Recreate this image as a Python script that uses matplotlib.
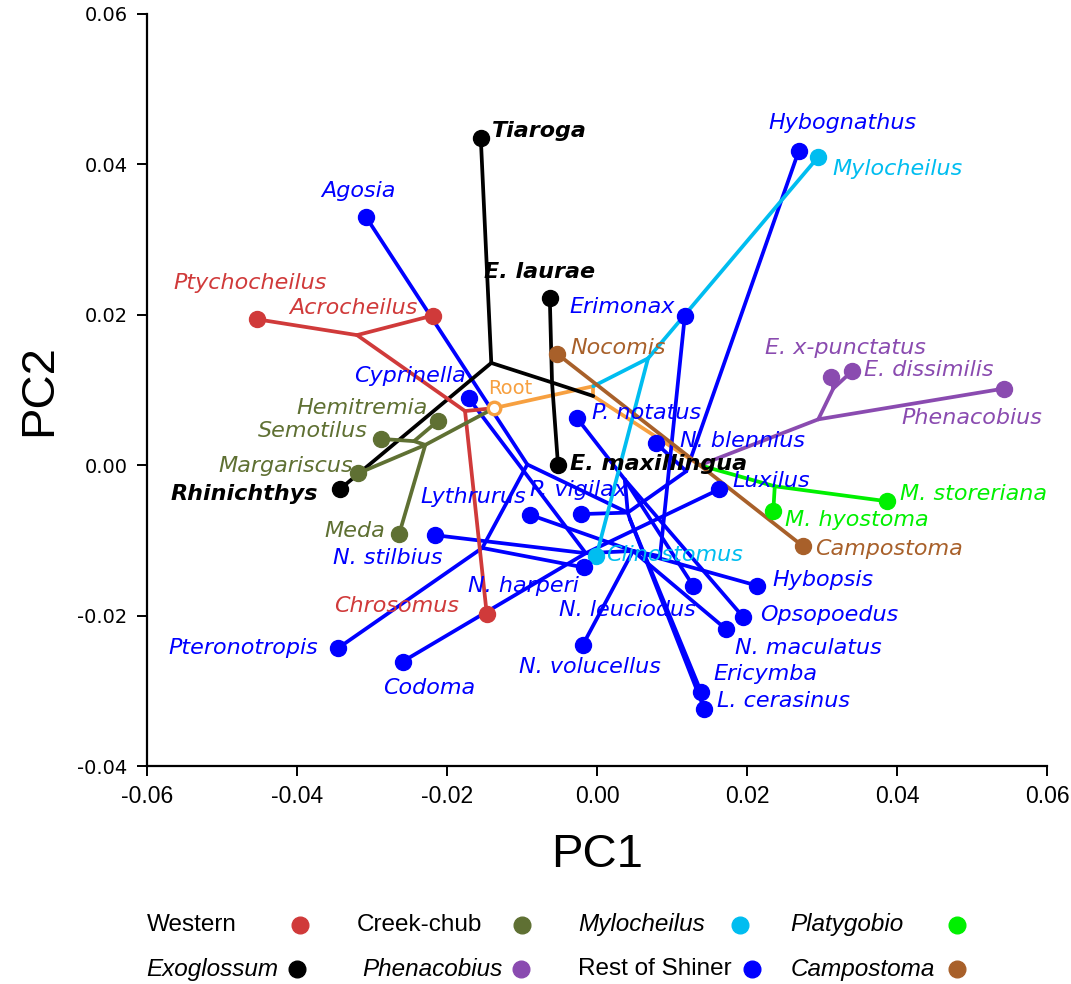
import matplotlib
matplotlib.use("Agg")
import matplotlib.pyplot as plt

# ---- group colours ----
group_colors = {
    "Western": "#d03a3a",
    "Creek-chub": "#5f7033",
    "Mylocheilus": "#00bdf0",
    "Platygobio": "#00f000",
    "Exoglossum": "#000000",
    "Phenacobius": "#8a4bb0",
    "Rest of Shiner": "#0000ff",
    "Campostoma": "#a8602a",
    "Root": "#f7a040",
}

# ---- tips: name, PC1, PC2, group ----
tip_names = ["Tiaroga", "Agosia", "Ptychocheilus", "Acrocheilus", "E. laurae", "Nocomis",
             "Cyprinella", "Hemitremia", "Semotilus", "Margariscus", "Rhinichthys", "Meda",
             "E. maxillingua", "P. notatus", "N. blennius", "Erimonax", "Hybognathus",
             "Mylocheilus", "E. x-punctatus", "E. dissimilis", "Phenacobius", "Luxilus",
             "M. hyostoma", "M. storeriana", "Campostoma", "Lythrurus", "P. vigilax",
             "N. stilbius", "Clinostomus", "N. harperi", "Hybopsis", "N. leuciodus",
             "Opsopoedus", "N. maculatus", "Chrosomus", "Pteronotropis", "Codoma",
             "N. volucellus", "Ericymba", "L. cerasinus"]
tip_pc1 = [-0.0155, -0.0308, -0.0453, -0.0219, -0.0063, -0.0053,
           -0.0171, -0.0212, -0.0288, -0.0319, -0.0343, -0.0264,
           -0.0052, -0.0027, 0.0079, 0.0117, 0.0269,
           0.0295, 0.0312, 0.0340, 0.0543, 0.0163,
           0.0235, 0.0387, 0.0275, -0.0089, -0.0021,
           -0.0216, -0.0001, -0.0017, 0.0213, 0.0128,
           0.0195, 0.0172, -0.0147, -0.0345, -0.0259,
           -0.0019, 0.0139, 0.0143]
tip_pc2 = [0.0435, 0.0330, 0.0194, 0.0199, 0.0223, 0.0148,
           0.0089, 0.0059, 0.0035, -0.0011, -0.0032, -0.0092,
           0.0000, 0.0063, 0.0029, 0.0198, 0.0418,
           0.0410, 0.0117, 0.0125, 0.0102, -0.0032,
           -0.0061, -0.0048, -0.0108, -0.0066, -0.0065,
           -0.0093, -0.0121, -0.0136, -0.0160, -0.0160,
           -0.0202, -0.0218, -0.0198, -0.0243, -0.0261,
           -0.0239, -0.0302, -0.0324]
tip_group = ["Exoglossum", "Rest of Shiner", "Western", "Western", "Exoglossum", "Campostoma",
             "Rest of Shiner", "Creek-chub", "Creek-chub", "Creek-chub", "Exoglossum", "Creek-chub",
             "Exoglossum", "Rest of Shiner", "Rest of Shiner", "Rest of Shiner", "Rest of Shiner",
             "Mylocheilus", "Phenacobius", "Phenacobius", "Phenacobius", "Rest of Shiner",
             "Platygobio", "Platygobio", "Campostoma", "Rest of Shiner", "Rest of Shiner",
             "Rest of Shiner", "Mylocheilus", "Rest of Shiner", "Rest of Shiner", "Rest of Shiner",
             "Rest of Shiner", "Rest of Shiner", "Western", "Rest of Shiner", "Rest of Shiner",
             "Rest of Shiner", "Rest of Shiner", "Rest of Shiner"]

# ---- reconstructed ancestral nodes ----
node_names = ["Root", "k1", "k2", "o1", "o2", "n1", "c1m", "p1", "p2", "g1",
              "r1", "r2", "c1", "c2",
              "b1", "b3", "b4", "b6", "b7", "h", "e1", "q", "h2"]
node_pc1 = [-0.0137, -0.0141, -0.0060, -0.0005, -0.0005, 0.0137, 0.0068, 0.0295, 0.0315, 0.0237,
            -0.0320, -0.0176, -0.0229, -0.0244,
            -0.0093, -0.0153, -0.0015, 0.0041, 0.0119, 0.0048, 0.0044, 0.0037, 0.0084]
node_pc2 = [0.0076, 0.0136, 0.0110, 0.0105, 0.0092, 0.0000, 0.0142, 0.0061, 0.0102, -0.0028,
            0.0173, 0.0072, 0.0027, 0.0032,
            0.0001, -0.0110, -0.0117, -0.0063, -0.0008, -0.0114, -0.0072, -0.0019, -0.0121]

# ---- branches: (from, to, group) ----
branches = [
    ("Root", "o1", "Root"), ("o1", "o2", "Root"), ("o2", "n1", "Root"),
    ("k1", "Tiaroga", "Exoglossum"), ("k1", "Rhinichthys", "Exoglossum"),
    ("k1", "k2", "Exoglossum"), ("k2", "o2", "Exoglossum"),
    ("k2", "E. laurae", "Exoglossum"), ("k2", "E. maxillingua", "Exoglossum"),
    ("o1", "c1m", "Mylocheilus"), ("c1m", "Mylocheilus", "Mylocheilus"),
    ("c1m", "Clinostomus", "Mylocheilus"),
    ("n1", "p1", "Phenacobius"), ("p1", "Phenacobius", "Phenacobius"),
    ("p1", "p2", "Phenacobius"), ("p2", "E. x-punctatus", "Phenacobius"),
    ("p2", "E. dissimilis", "Phenacobius"),
    ("n1", "g1", "Platygobio"), ("g1", "M. hyostoma", "Platygobio"),
    ("g1", "M. storeriana", "Platygobio"),
    ("Nocomis", "n1", "Campostoma"), ("n1", "Campostoma", "Campostoma"),
    ("r1", "Ptychocheilus", "Western"), ("r1", "Acrocheilus", "Western"),
    ("r1", "r2", "Western"), ("r2", "Chrosomus", "Western"), ("r2", "Root", "Western"),
    ("Root", "c1", "Creek-chub"), ("c1", "Margariscus", "Creek-chub"),
    ("c1", "Meda", "Creek-chub"), ("c1", "c2", "Creek-chub"),
    ("c2", "Semotilus", "Creek-chub"), ("c2", "Hemitremia", "Creek-chub"),
    ("b1", "Agosia", "Rest of Shiner"), ("b1", "b3", "Rest of Shiner"),
    ("b3", "Pteronotropis", "Rest of Shiner"), ("b3", "N. harperi", "Rest of Shiner"),
    ("b1", "b6", "Rest of Shiner"), ("b6", "P. vigilax", "Rest of Shiner"),
    ("b6", "b7", "Rest of Shiner"), ("b7", "Hybognathus", "Rest of Shiner"),
    ("b7", "N. blennius", "Rest of Shiner"),
    ("b4", "Cyprinella", "Rest of Shiner"), ("b4", "N. stilbius", "Rest of Shiner"),
    ("b4", "Codoma", "Rest of Shiner"), ("b4", "Luxilus", "Rest of Shiner"),
    ("b4", "h", "Rest of Shiner"), ("h", "Lythrurus", "Rest of Shiner"),
    ("h", "N. volucellus", "Rest of Shiner"), ("b6", "e1", "Rest of Shiner"),
    ("e1", "Ericymba", "Rest of Shiner"), ("e1", "L. cerasinus", "Rest of Shiner"),
    ("h", "Hybopsis", "Rest of Shiner"), ("h", "N. maculatus", "Rest of Shiner"),
    ("q", "P. notatus", "Rest of Shiner"), ("q", "Opsopoedus", "Rest of Shiner"),
    ("q", "N. leuciodus", "Rest of Shiner"), ("q", "b6", "Rest of Shiner"),
    ("h2", "Erimonax", "Rest of Shiner"), ("h2", "h", "Rest of Shiner"),
]

legend_rows = [["Western", "Creek-chub", "Mylocheilus", "Platygobio"],
               ["Exoglossum", "Phenacobius", "Rest of Shiner", "Campostoma"]]
italic_groups = {"Mylocheilus", "Platygobio", "Exoglossum", "Phenacobius", "Campostoma"}

# label placement: pixel offset from the point and alignment
label_pos = {
    "Tiaroga": (11, 7, "left"), "Agosia": (-8, 26, "center"),
    "Ptychocheilus": (-7, 36, "center"), "Acrocheilus": (-15, 8, "right"),
    "E. laurae": (-10, 26, "center"), "Erimonax": (-10, 9, "right"),
    "Nocomis": (13, 6, "left"), "Hybognathus": (44, 28, "center"),
    "Mylocheilus": (14, -12, "left"), "E. x-punctatus": (14, 29, "center"),
    "E. dissimilis": (12, 1, "left"), "Phenacobius": (-32, -29, "center"),
    "Cyprinella": (-3, 22, "right"), "Hemitremia": (-10, 13, "right"),
    "Semotilus": (-13, 8, "right"), "Margariscus": (-5, 7, "right"),
    "Rhinichthys": (-22, -5, "right"), "Meda": (-14, 3, "right"),
    "P. notatus": (15, 5, "left"), "N. blennius": (24, 2, "left"),
    "E. maxillingua": (12, 1, "left"), "Luxilus": (13, 8, "left"),
    "M. storeriana": (13, 7, "left"), "M. hyostoma": (12, -9, "left"),
    "Campostoma": (12, -3, "left"), "Lythrurus": (-57, 18, "center"),
    "P. vigilax": (-3, 24, "center"), "N. stilbius": (-47, -23, "center"),
    "Clinostomus": (10, 1, "left"), "N. harperi": (-61, -19, "center"),
    "Hybopsis": (16, 6, "left"), "N. leuciodus": (-66, -24, "center"),
    "Opsopoedus": (17, 2, "left"), "N. maculatus": (9, -19, "left"),
    "Chrosomus": (-90, 8, "center"), "Pteronotropis": (-20, 0, "right"),
    "Codoma": (26, -26, "center"), "N. volucellus": (7, -22, "center"),
    "Ericymba": (12, 18, "left"), "L. cerasinus": (13, 8, "left"),
}

# drawing order of the branch colours
branch_z = {"Root": 1.5, "Rest of Shiner": 2.0}

coords = {n: (x, y) for n, x, y in zip(tip_names, tip_pc1, tip_pc2)}
coords.update({n: (x, y) for n, x, y in zip(node_names, node_pc1, node_pc2)})

fig = plt.figure(figsize=(10.71, 9.84), dpi=100)
ax = fig.add_axes([0.1373, 0.2215, 0.8403, 0.7643])

for a, b, g in branches:
    (x0, y0), (x1, y1) = coords[a], coords[b]
    ax.plot([x0, x1], [y0, y1], color=group_colors[g], lw=2.7,
            solid_capstyle="round", zorder=branch_z.get(g, 2.5))

for n, x, y, g in zip(tip_names, tip_pc1, tip_pc2, tip_group):
    c = group_colors[g]
    ax.plot(x, y, "o", ms=11.5, color=c, mec=c, zorder=4)
    dx, dy, ha = label_pos[n]
    lc = "black" if n == "E. maxillingua" else c
    ax.annotate(n, (x, y), xytext=(dx, dy), textcoords="offset pixels",
                ha=ha, va="center", color=lc, zorder=5,
                family="DejaVu Sans", style="oblique", fontsize=16,
                fontweight="bold" if g == "Exoglossum" else "normal")

rx, ry = coords["Root"]
ax.plot(rx, ry, "o", ms=9, mfc="white", mec=group_colors["Root"], mew=2.4, zorder=4)
ax.annotate("Root", (rx, ry), xytext=(-6, 20), textcoords="offset pixels",
            ha="left", va="center", color=group_colors["Root"],
            family="DejaVu Sans", fontsize=14)

ax.set_xlim(-0.06, 0.06)
ax.set_ylim(-0.04, 0.06)
ax.set_xticks([-0.06, -0.04, -0.02, 0.0, 0.02, 0.04, 0.06])
ax.set_yticks([-0.04, -0.02, 0.0, 0.02, 0.04, 0.06])
ax.set_xticklabels([f"{v:.2f}" for v in ax.get_xticks()])
ax.set_yticklabels([f"{v:.2f}" for v in ax.get_yticks()])
for s in ["top", "right"]:
    ax.spines[s].set_visible(False)
for s in ["left", "bottom"]:
    ax.spines[s].set_linewidth(1.6)
ax.tick_params(direction="out", length=7, width=1.4, pad=7)
for t in ax.get_yticklabels():
    t.set_family("DejaVu Sans")
    t.set_fontsize(14)
for t in ax.get_xticklabels():
    t.set_family("Liberation Sans")
    t.set_fontsize(16.5)
ax.set_xlabel("PC1", family="Liberation Sans", fontsize=34, labelpad=18)
ax.set_ylabel("PC2", family="Liberation Sans", fontsize=34, labelpad=12)

# legend laid out as a 2 x 4 grid
text_x = [[0.137, 0.333, 0.540, 0.738], [0.137, 0.338, 0.540, 0.738]]
dot_x = [[0.280, 0.487, 0.691, 0.894], [0.277, 0.486, 0.702, 0.894]]
row_y = [0.060, 0.015]
for r, row in enumerate(legend_rows):
    for c, g in enumerate(row):
        fig.text(text_x[r][c], row_y[r], g, ha="left", va="center", fontsize=17.5,
                 family="Liberation Sans",
                 style="italic" if g in italic_groups else "normal")
        fig.add_artist(plt.Line2D([dot_x[r][c]], [row_y[r]], marker="o", ms=12,
                                  color=group_colors[g], transform=fig.transFigure))

fig.savefig("out.png", dpi=100)
